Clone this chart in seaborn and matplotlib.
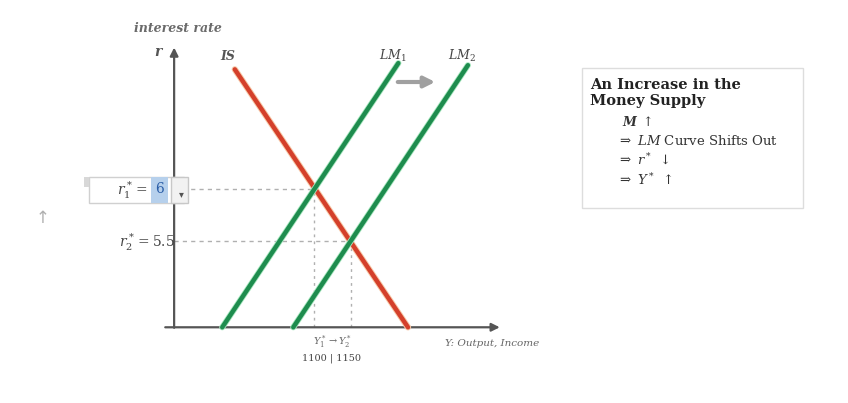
import matplotlib
matplotlib.use("Agg")
import matplotlib.pyplot as plt
import matplotlib.patches as mpatches
import matplotlib.patheffects as pe
import pandas as pd
import seaborn as sns

# Datos de las curvas (Y = ingreso, r = tasa de interes)
is_income = [993, 1227]
is_rate = [7.15, 4.67]
lm1_income = [976, 1214]
lm1_rate = [4.67, 7.21]
lm2_income = [1072, 1308]
lm2_rate = [4.67, 7.19]

# Equilibrios
eq_income = [1100, 1150]
eq_rate = [6, 5.5]

# Origen de los ejes
y_origin = 911
r_origin = 4.67

sns.set_theme(style="white")
plt.rcParams["mathtext.fontset"] = "dejavuserif"
plt.rcParams["font.family"] = ["DejaVu Serif"]

df = pd.DataFrame({
    "income": is_income + lm1_income + lm2_income,
    "rate": is_rate + lm1_rate + lm2_rate,
    "curve": ["IS"] * 2 + ["LM1"] * 2 + ["LM2"] * 2,
})

W, H = 848, 403
fig = plt.figure(figsize=(W / 100, H / 100), dpi=100)
fig.patch.set_facecolor("white")
ax = fig.add_axes([0, 0, 1, 1])
ax.set_xlim(675.7, 1821.6)
ax.set_ylim(3.942, 7.817)
ax.axis("off")


def fx(px):
    return px / W


def fy(py):
    return 1 - py / H


# lineas guia punteadas
for yy, rr in zip(eq_income, eq_rate):
    ax.plot([y_origin, yy], [rr, rr], color="#b0b0b0", lw=1, ls=(0, (3, 3)), zorder=1)
    ax.plot([yy, yy], [r_origin, rr], color="#b0b0b0", lw=1, ls=(0, (2, 3)), zorder=1)

# curvas
sns.lineplot(data=df[df.curve == "IS"], x="income", y="rate", color="#d4402b",
             lw=3.2, ax=ax, zorder=3,
             path_effects=[pe.Stroke(linewidth=4.6, foreground="#f7c9a8"), pe.Normal()])
for name in ["LM1", "LM2"]:
    sns.lineplot(data=df[df.curve == name], x="income", y="rate", color="#1e8c4e",
                 lw=3.2, ax=ax, zorder=3,
                 path_effects=[pe.Stroke(linewidth=4.4, foreground="#a8e8c0"), pe.Normal()])

# ejes con flechas
ax.annotate("", xy=(y_origin, 7.36), xytext=(y_origin, r_origin - 0.005),
            arrowprops=dict(arrowstyle="-|>", color="#555555", lw=1.6,
                            mutation_scale=12, shrinkA=0, shrinkB=0), zorder=2)
ax.annotate("", xy=(1351, r_origin), xytext=(899, r_origin),
            arrowprops=dict(arrowstyle="-|>", color="#555555", lw=1.6,
                            mutation_scale=12, shrinkA=0, shrinkB=0), zorder=2)

# flecha de desplazamiento
fig.patches.append(mpatches.FancyArrowPatch((fx(395), fy(82)), (fx(438), fy(82)),
                                            transform=fig.transFigure, arrowstyle="-|>",
                                            mutation_scale=16, color="#a0a0a0", lw=3))

# etiquetas
gray = "#555555"
fig.text(fx(178), fy(28), "interest rate", ha="center", va="center", fontsize=9,
         style="italic", weight="bold", color="#6a6a6a")
fig.text(fx(158), fy(52), "r", ha="center", va="center", fontsize=10,
         style="italic", weight="bold", color=gray)
fig.text(fx(228), fy(56), "IS", ha="center", va="center", fontsize=9,
         style="italic", weight="bold", color=gray)
fig.text(fx(393), fy(56), r"$LM_1$", ha="center", va="center", fontsize=9, color="#444444")
fig.text(fx(462), fy(56), r"$LM_2$", ha="center", va="center", fontsize=9, color="#444444")

# caja r1
fig.patches.append(mpatches.Rectangle((fx(89), fy(203)), fx(95), 26 / H,
                                      transform=fig.transFigure, facecolor="white",
                                      edgecolor="#d0d0d0", lw=1, zorder=4))
fig.patches.append(mpatches.Rectangle((fx(151), fy(203)), fx(17), 26 / H,
                                      transform=fig.transFigure, facecolor="#b6d0ec",
                                      edgecolor="none", zorder=5))
fig.patches.append(mpatches.Rectangle((fx(171), fy(203)), fx(17), 26 / H,
                                      transform=fig.transFigure, facecolor="#f2f2f2",
                                      edgecolor="#c8c8c8", lw=1, zorder=4))
fig.patches.append(mpatches.Rectangle((fx(84), fy(187)), fx(5), 10 / H,
                                      transform=fig.transFigure, facecolor="#d8d8d8",
                                      edgecolor="none", zorder=4))
fig.text(fx(148), fy(190), r"$r_1^* = $", ha="right", va="center", fontsize=10,
         color="#444444", zorder=6)
fig.text(fx(159), fy(189), "6", ha="center", va="center", fontsize=10,
         color="#2c5fa8", zorder=6)
fig.text(fx(181), fy(194), "▾", ha="center", va="center", fontsize=7,
         color="#555555", zorder=6, family=["DejaVu Sans"])

fig.text(fx(175), fy(242), r"$r_2^* = 5.5$", ha="right", va="center", fontsize=10,
         color="#444444")
fig.text(fx(43), fy(218), "↑", ha="center", va="center", fontsize=12, color="#b0b0b0",
         family=["DejaVu Sans"])

fig.text(fx(332), fy(342), r"$Y_1^* \rightarrow Y_2^*$", ha="center", va="center",
         fontsize=7, color="#666666")
fig.text(fx(332), fy(358), f"{eq_income[0]} | {eq_income[1]}", ha="center", va="center",
         fontsize=7, color="#444444")
fig.text(fx(445), fy(343), "Y: Output, Income", ha="left", va="center", fontsize=7.5,
         style="italic", color="#666666")

# caja de texto derecha
fig.patches.append(mpatches.Rectangle((fx(582), fy(208)), fx(221), 140 / H,
                                      transform=fig.transFigure, facecolor="white",
                                      edgecolor="#dddddd", lw=1))
fig.text(fx(590), fy(85), "An Increase in the", ha="left", va="center", fontsize=10.5,
         weight="bold", color="#222222")
fig.text(fx(590), fy(101), "Money Supply", ha="left", va="center", fontsize=10.5,
         weight="bold", color="#222222")
fig.text(fx(622), fy(122), r"$\boldsymbol{M}\ \uparrow$", ha="left", va="center",
         fontsize=9, color="#333333")
fig.text(fx(617), fy(141), r"$\Rightarrow\ LM$ Curve Shifts Out", ha="left", va="center",
         fontsize=9.5, color="#333333")
fig.text(fx(617), fy(160), r"$\Rightarrow\ r^*\ \downarrow$", ha="left", va="center",
         fontsize=9.5, color="#333333")
fig.text(fx(617), fy(180), r"$\Rightarrow\ Y^*\ \uparrow$", ha="left", va="center",
         fontsize=9.5, color="#333333")

fig.savefig("out.png", dpi=100, facecolor="white")
